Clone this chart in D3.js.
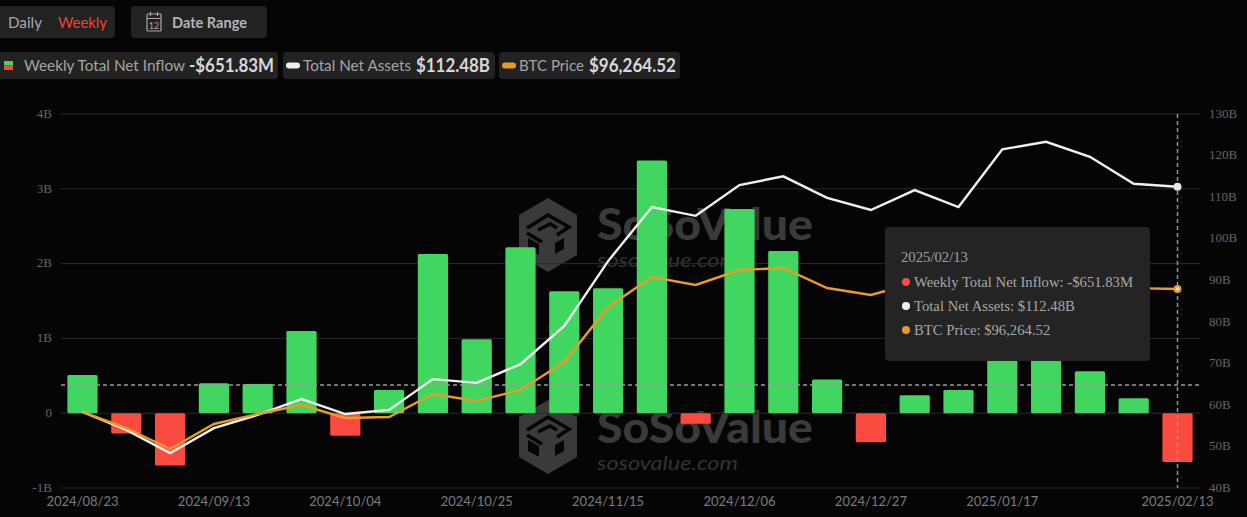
<!DOCTYPE html>
<html><head><meta charset="utf-8">
<script src="https://cdn.jsdelivr.net/npm/d3@7"></script>
<style>html,body{margin:0;padding:0;background:#050505;overflow:hidden}svg{display:block}</style>
</head><body><svg id="c" width="1247" height="517"></svg>
<script>
const dates=["2024/08/23","2024/08/30","2024/09/06","2024/09/13","2024/09/20","2024/09/27","2024/10/04","2024/10/11","2024/10/18","2024/10/25","2024/11/01","2024/11/08","2024/11/15","2024/11/22","2024/11/29","2024/12/06","2024/12/13","2024/12/20","2024/12/27","2025/01/03","2025/01/10","2025/01/17","2025/01/24","2025/01/31","2025/02/07","2025/02/13"];
const xTicks=["2024/08/23","2024/09/13","2024/10/04","2024/10/25","2024/11/15","2024/12/06","2024/12/27","2025/01/17","2025/02/13"];
const inflow=[0.51,-0.27,-0.70,0.40,0.39,1.10,-0.30,0.31,2.13,0.99,2.22,1.63,1.67,3.38,-0.14,2.73,2.17,0.45,-0.39,0.24,0.31,0.90,0.95,0.56,0.20,-0.652];
const assets=[58.3,54,48.4,54.4,57.6,61.4,57.8,58.8,66.2,65.3,69.8,79,94.6,107.6,105.5,112.9,115,109.8,106.9,111.7,107.6,121.5,123.3,119.7,113.2,112.48];
const btc=[64284,60124,54664,61164,63764,66104,62724,62984,68964,67144,70004,77284,91584,99384,97304,101204,101724,96524,94704,97824,97000,103000,104500,101500,96500,96264.52];
const leftTicks=[-1,0,1,2,3,4];
const rightTicks=[40,50,60,70,80,90,100,110,120,130];
const legendItems=[["Weekly Total Net Inflow","-$651.83M"],["Total Net Assets","$112.48B"],["BTC Price","$96,264.52"]];
const tooltipDate="2025/02/13";
const colors={up:"#41d65f",down:"#fb4b40",assets:"#f0f0f0",btc:"#ea9a26"};

const svg=d3.select("#c");
const serif="'Liberation Serif',serif", sans="Lato,sans-serif";
const x=d3.scaleBand().domain(dates).range([60.6,1199.4]).paddingInner(0.31).paddingOuter(0.155);
const cx=d=>x(d)+x.bandwidth()/2;
const yL=d3.scaleLinear().domain([-1,4]).range([488,114]);
const yR=d3.scaleLinear().domain([40,130]).range([488,114]);
const yB=d3.scaleLinear().domain([44524,141764]).range([488,114]);

svg.append("rect").attr("width",1247).attr("height",517).attr("fill","#050505");

// header chips
function chip(a,b,t,h){svg.append("rect").attr("x",a).attr("y",t).attr("width",b-a).attr("height",h).attr("rx",4).attr("fill","#222222");}
function label(s,a,w,yy,size,fill,weight){svg.append("text").attr("x",a).attr("y",yy).attr("font-family",sans).attr("font-size",size).attr("font-weight",weight||400).attr("fill",fill).attr("textLength",w).attr("lengthAdjust","spacingAndGlyphs").text(s);}
chip(-4,115,6,32);chip(131,267,6,32);
label("Daily",8,34,28,16,"#a8a8a8");
label("Weekly",58,49,28,16,"#f0452e");
label("Date Range",172,75,28,15.5,"#b4b4b4",700);
const ic=svg.append("g").attr("fill","none").attr("stroke","#a8a8a8").attr("stroke-width",1.2);
ic.append("rect").attr("x",147).attr("y",14).attr("width",14).attr("height",17).attr("rx",1);
ic.append("path").attr("d","M147 18.5H161M150.5 12V16M157.5 12V16");
svg.append("text").attr("x",154).attr("y",28.5).attr("text-anchor","middle").attr("font-size",9).attr("font-family",sans).attr("fill","#a8a8a8").text("12");

// legend
chip(-4,278,52,27);chip(283,495,52,27);chip(499,680,52,27);
svg.append("rect").attr("x",4).attr("y",61).attr("width",9).attr("height",4.5).attr("fill",colors.up);
svg.append("rect").attr("x",4).attr("y",65.5).attr("width",9).attr("height",4.5).attr("fill",colors.down);
svg.append("rect").attr("x",286).attr("y",62.5).attr("width",14).attr("height",6).attr("rx",3).attr("fill",colors.assets);
svg.append("rect").attr("x",502).attr("y",62.5).attr("width",14).attr("height",6).attr("rx",3).attr("fill",colors.btc);
const lpos=[[24,161,189,85],[303,108,416,74],[519,65,589,87]];
legendItems.forEach((it,i)=>{const p=lpos[i];
  label(it[0],p[0],p[1],71,16,"#a4a4a4");
  label(it[1],p[2],p[3],72,18,"#d8d8d8",700);
});

// watermarks
function wm(cxx,cy,ty,sy){
  const g=svg.append("g").attr("transform",`translate(${cxx},${cy})`);
  const hex=[[0,-37],[29,-20],[29,20],[0,37],[-29,20],[-29,-20]];
  g.append("path").attr("d","M"+hex.map(p=>p.join(" ")).join("L")+"Z").attr("fill","#3a3a3a");
  const dark=g.append("g").attr("fill","none").attr("stroke","#050505").attr("stroke-width",3.5);
  dark.append("path").attr("d","M-21 -7L0 -20L21 -8L9 0");
  dark.append("path").attr("d","M-10 -5L2 -11L9 -7");
  dark.append("path").attr("d","M-21 -2L-6 7");
  g.append("path").attr("fill","#050505").attr("d","M-20 3L-9 9V20L-20 14Z");
  g.append("path").attr("fill","#050505").attr("d","M7 8L16 3V14L7 19Z");
  svg.append("text").attr("x",597).attr("y",ty).attr("font-family",sans).attr("font-weight",900).attr("font-size",43).attr("fill","#3a3a3a").attr("textLength",216).attr("lengthAdjust","spacingAndGlyphs").text("SoSoValue");
  svg.append("text").attr("x",597).attr("y",sy).attr("font-family",sans).attr("font-style","italic").attr("font-size",20).attr("fill","#333333").attr("textLength",141).attr("lengthAdjust","spacingAndGlyphs").text("sosovalue.com");
}
wm(548,235,240,267);
wm(548,437,443,470);

// grid
svg.append("g").selectAll("line").data(leftTicks).join("line")
  .attr("x1",61).attr("x2",1200).attr("y1",d=>yL(d)).attr("y2",d=>yL(d))
  .attr("stroke","#2a2a2a").attr("stroke-width",1);

// axes
const axL=svg.append("g").attr("transform","translate(61,0)")
  .call(d3.axisLeft(yL).tickValues(leftTicks).tickSize(0).tickPadding(9).tickFormat(d=>d===0?"0":d+"B"));
const axR=svg.append("g").attr("transform","translate(1200,0)")
  .call(d3.axisRight(yR).tickValues(rightTicks).tickSize(0).tickPadding(9).tickFormat(d=>d+"B"));
const axB=svg.append("g").attr("transform","translate(0,488)")
  .call(d3.axisBottom(x).tickValues(xTicks).tickSize(0).tickPadding(9));
[axL,axR,axB].forEach(a=>{a.select(".domain").remove();});
[axL,axR].forEach(a=>a.selectAll("text").attr("font-family",serif).attr("font-size",13).attr("fill","#666666").attr("dy","0.25em"));
axB.selectAll("text").attr("font-family",sans).attr("font-size",13).attr("fill","#7c7c7c");

// bars
svg.append("g").selectAll("rect").data(dates).join("rect")
  .attr("x",d=>x(d)).attr("width",x.bandwidth())
  .attr("y",(d,i)=>yL(Math.max(0,inflow[i])))
  .attr("height",(d,i)=>Math.abs(yL(inflow[i])-yL(0)))
  .attr("rx",1.5)
  .attr("fill",(d,i)=>inflow[i]>=0?colors.up:colors.down);

// crosshair
svg.append("line").attr("x1",61).attr("x2",1200).attr("y1",385).attr("y2",385)
  .attr("stroke","#9a9a9a").attr("stroke-width",1.4).attr("stroke-dasharray","4 3");
svg.append("line").attr("x1",cx(dates[25])).attr("x2",cx(dates[25])).attr("y1",114).attr("y2",488)
  .attr("stroke","#9a9a9a").attr("stroke-width",1.4).attr("stroke-dasharray","4 3");

// lines
const lineA=d3.line().x((d,i)=>cx(dates[i])).y(d=>yR(d));
const lineB=d3.line().x((d,i)=>cx(dates[i])).y(d=>yB(d));
svg.append("path").attr("d",lineA(assets)).attr("fill","none").attr("stroke",colors.assets).attr("stroke-width",2.4);
svg.append("path").attr("d",lineB(btc)).attr("fill","none").attr("stroke",colors.btc).attr("stroke-width",2.4);
svg.append("circle").attr("cx",cx(dates[25])).attr("cy",yR(assets[25])).attr("r",4).attr("fill","#e8e8e8");
svg.append("circle").attr("cx",cx(dates[25])).attr("cy",yB(btc[25])).attr("r",4).attr("fill",colors.btc);
svg.append("circle").attr("cx",cx(dates[25])).attr("cy",yB(btc[25])).attr("r",1.8).attr("fill","#f4e6cf");

// tooltip
svg.append("rect").attr("x",885).attr("y",227).attr("width",265).attr("height",134).attr("rx",4).attr("fill","#242424");
svg.append("text").attr("x",901).attr("y",262).attr("font-family",serif).attr("font-size",14.7).attr("fill","#a0a0a0").text(tooltipDate);
const tipColors=[colors.down,colors.assets,colors.btc];
legendItems.forEach((it,i)=>{const yy=282+24*i;
  svg.append("circle").attr("cx",906).attr("cy",yy).attr("r",4).attr("fill",tipColors[i]);
  svg.append("text").attr("x",914).attr("y",yy+4.5).attr("font-family",serif).attr("font-size",14.7).attr("fill","#a8a8a8").text(it[0]+": "+it[1]);
});
</script></body></html>
